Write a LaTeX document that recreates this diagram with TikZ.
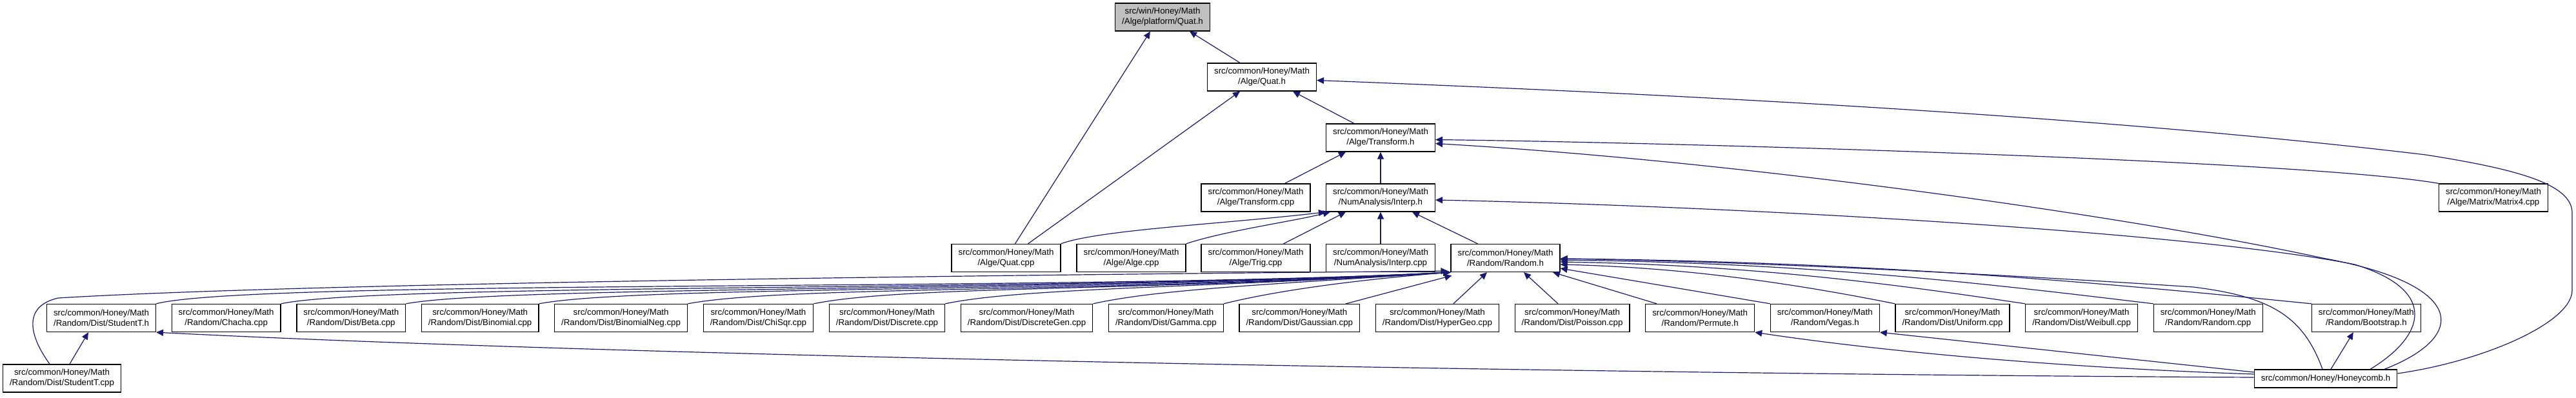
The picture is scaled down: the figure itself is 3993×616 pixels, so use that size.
\documentclass[tikz,border=0pt]{standalone}
\usepackage{fontspec}
\setmainfont{Liberation Sans}
\usepackage{tikz}
\usetikzlibrary{arrows.meta,positioning}
\definecolor{edgeblue}{RGB}{25,25,112}
\tikzset{
  file/.style={draw, line width=1.3pt, fill=white, align=center, inner xsep=10.5pt,
    minimum height=43pt, font=\fontsize{13.3}{16}\selectfont},
  current/.style={file, fill=black!25},
  edge/.style={edgeblue, line width=1.2pt, -{Triangle[length=11pt,width=10pt]}}
}

\begin{document}
\begin{tikzpicture}[x=1pt, y=-1pt, node distance=23.5pt]
\useasboundingbox (0,0) rectangle (3993,616);
% top of the graph
\node[current] (root) at (1802,26.5) {src/win/Honey/Math\\/Alge/platform/Quat.h};
\node[file] (quath) at (1956,119.5) {src/common/Honey/Math\\/Alge/Quat.h};
\node[file] (transh) at (2140,213.5) {src/common/Honey/Math\\/Alge/Transform.h};
\node[file] (transcpp) at (1946.5,306.5) {src/common/Honey/Math\\/Alge/Transform.cpp};
\node[file] (interph) at (2140,306.5) {src/common/Honey/Math\\/NumAnalysis/Interp.h};
\node[file] (matrix) at (3865,306.5) {src/common/Honey/Math\\/Alge/Matrix/Matrix4.cpp};
\node[file] (quatcpp) at (1559.5,400) {src/common/Honey/Math\\/Alge/Quat.cpp};
\node[file] (algecpp) at (1753.5,400) {src/common/Honey/Math\\/Alge/Alge.cpp};
\node[file] (trigcpp) at (1946.5,400) {src/common/Honey/Math\\/Alge/Trig.cpp};
\node[file] (interpcpp) at (2140,400) {src/common/Honey/Math\\/NumAnalysis/Interp.cpp};
\node[file] (randomh) at (2333.5,400) {src/common/Honey/Math\\/Random/Random.h};
% row of random sources
\node[file] (studh) at (157,493) {src/common/Honey/Math\\/Random/Dist/StudentT.h};
\node[file,right=of studh] (chacha) {src/common/Honey/Math\\/Random/Chacha.cpp};
\node[file,right=of chacha] (beta) {src/common/Honey/Math\\/Random/Dist/Beta.cpp};
\node[file,right=of beta] (binom) {src/common/Honey/Math\\/Random/Dist/Binomial.cpp};
\node[file,right=of binom] (binomneg) {src/common/Honey/Math\\/Random/Dist/BinomialNeg.cpp};
\node[file,right=of binomneg] (chisqr) {src/common/Honey/Math\\/Random/Dist/ChiSqr.cpp};
\node[file,right=of chisqr] (discrete) {src/common/Honey/Math\\/Random/Dist/Discrete.cpp};
\node[file,right=of discrete] (discgen) {src/common/Honey/Math\\/Random/Dist/DiscreteGen.cpp};
\node[file,right=of discgen] (gamma) {src/common/Honey/Math\\/Random/Dist/Gamma.cpp};
\node[file,right=of gamma] (gauss) {src/common/Honey/Math\\/Random/Dist/Gaussian.cpp};
\node[file,right=of gauss] (hypergeo) {src/common/Honey/Math\\/Random/Dist/HyperGeo.cpp};
\node[file,right=of hypergeo] (poisson) {src/common/Honey/Math\\/Random/Dist/Poisson.cpp};
\node[file,right=of poisson] (permute) {src/common/Honey/Math\\/Random/Permute.h};
\node[file,right=of permute] (vegas) {src/common/Honey/Math\\/Random/Vegas.h};
\node[file,right=of vegas] (uniform) {src/common/Honey/Math\\/Random/Dist/Uniform.cpp};
\node[file,right=of uniform] (weibull) {src/common/Honey/Math\\/Random/Dist/Weibull.cpp};
\node[file,right=of weibull] (randcpp) {src/common/Honey/Math\\/Random/Random.cpp};
\node[file,right=75pt of randcpp] (boot) {src/common/Honey/Math\\/Random/Bootstrap.h};
% bottom
\node[file] (stcpp) at (96,586.5) {src/common/Honey/Math\\/Random/Dist/StudentT.cpp};
\node[file,minimum height=28pt] (honey) at (3605,587) {src/common/Honey/Honeycomb.h};

% into the platform header
\draw[edge] ([xshift=-34pt]quath.north) -- ([xshift=42pt]root.south);
\draw[edge] ([xshift=14pt]quatcpp.north) -- ([xshift=-19pt]root.south);
% into Quat.h
\draw[edge] ([xshift=-41pt]transh.north) -- ([xshift=48pt]quath.south);
\draw[edge] ([xshift=34pt]quatcpp.north) -- ([xshift=-34pt]quath.south);
\draw[edge] ([yshift=8pt]honey.east) .. controls (3850,560) and (3987,500) .. (3987,450)
  -- (3987,330) .. controls (3987,285) and (3900,262) .. (3760,240)
  .. controls (3300,185) and (2700,150) .. ([yshift=-5pt]quath.east);
% into Transform.h
\draw[edge] ([xshift=45pt]transcpp.north) -- ([xshift=-54pt]transh.south);
\draw[edge] (interph.north) -- (transh.south);
\draw[edge] (matrix.north west) .. controls +(-200,-35) and +(400,5) .. ([yshift=-3pt]transh.east);
\draw[edge] ([xshift=91pt]honey.north) .. controls (3830,520) and (3820,440) .. (3600,400)
  .. controls (3300,335) and (2700,250) .. ([yshift=-9pt]transh.east);
% into Interp.h
\draw[edge] (quatcpp.north east) .. controls +(60,-22) and +(-150,18) .. (interph.south west);
\draw[edge] (algecpp.north east) .. controls +(60,-20) and +(-60,15) .. ([xshift=7pt]interph.south west);
\draw[edge] ([xshift=43pt]trigcpp.north) -- ([xshift=-54pt]interph.south);
\draw[edge] (interpcpp.north) -- (interph.south);
\draw[edge] ([xshift=-43pt]randomh.north) -- ([xshift=49pt]interph.south);
\draw[edge] ([xshift=69pt]honey.north) .. controls (3760,520) and (3780,450) .. (3650,410)
  .. controls (3400,360) and (2700,320) .. ([yshift=-3.5pt]interph.east);
% into Random.h
\draw[edge] ([xshift=-19pt]stcpp.north) .. controls (45,520) and (35,475) .. (90,462)
  .. controls (500,437) and (1700,425) .. ([xshift=-4pt,yshift=2pt]randomh.south west);
\draw[edge] (studh.north east) .. controls +(150,-38) and +(-600,30) .. (randomh.south west);
\draw[edge] (chacha.north east) .. controls +(150,-32) and +(-600,30) .. (randomh.south west);
\draw[edge] (beta.north east) .. controls +(150,-28) and +(-600,30) .. (randomh.south west);
\draw[edge] (binom.north east) .. controls +(150,-28) and +(-600,32) .. (randomh.south west);
\draw[edge] (binomneg.north east) .. controls +(150,-28) and +(-550,32) .. (randomh.south west);
\draw[edge] (chisqr.north east) .. controls +(140,-28) and +(-500,30) .. (randomh.south west);
\draw[edge] (discrete.north east) .. controls +(120,-25) and +(-400,25) .. (randomh.south west);
\draw[edge] (discgen.north east) .. controls +(100,-22) and +(-300,20) .. (randomh.south west);
\draw[edge] (gamma.north east) .. controls +(80,-20) and +(-150,12) .. (randomh.south west);
\draw[edge] ([xshift=-22pt]gauss.north east) -- ([xshift=2pt,yshift=-5pt]randomh.south west);
\draw[edge] ([xshift=25pt]hypergeo.north) -- ([xshift=-28.5pt]randomh.south);
\draw[edge] ([xshift=-22pt]poisson.north) -- ([xshift=28.5pt]randomh.south);
\draw[edge] ([xshift=-67pt]permute.north) -- ([xshift=73.5pt]randomh.south);
\draw[edge] (vegas.north west) -- ([yshift=-16pt]randomh.east);
\draw[edge] (uniform.north west) .. controls +(-150,-30) and +(200,5) .. ([yshift=-10pt]randomh.east);
\draw[edge] (weibull.north west) .. controls +(-200,-30) and +(300,5) .. ([yshift=-6pt]randomh.east);
\draw[edge] (randcpp.north west) .. controls +(-250,-30) and +(400,5) .. ([yshift=-3pt]randomh.east);
\draw[edge] (boot.north west) .. controls +(-300,-30) and +(500,5) .. ([yshift=-1pt]randomh.east);
\draw[edge] ([xshift=-5pt]honey.north) .. controls (3570,490) and (3520,460) .. (3400,445)
  .. controls (3100,425) and (2700,405) .. ([yshift=-1pt]randomh.east);
% into the other headers
\draw[edge] ([xshift=12pt]stcpp.north) -- ([xshift=-20pt]studh.south);
\draw[edge] ([yshift=2pt]honey.west) .. controls +(-1000,-5) and +(750,38) .. (studh.south east);
\draw[edge] ([yshift=7pt]honey.west) .. controls +(-300,-10) and +(200,30) .. (permute.south east);
\draw[edge] ([yshift=10pt]honey.west) -- (vegas.south east);
\draw[edge] ([xshift=8pt]honey.north) -- ([xshift=-20pt]boot.south);
\end{tikzpicture}
\end{document}
